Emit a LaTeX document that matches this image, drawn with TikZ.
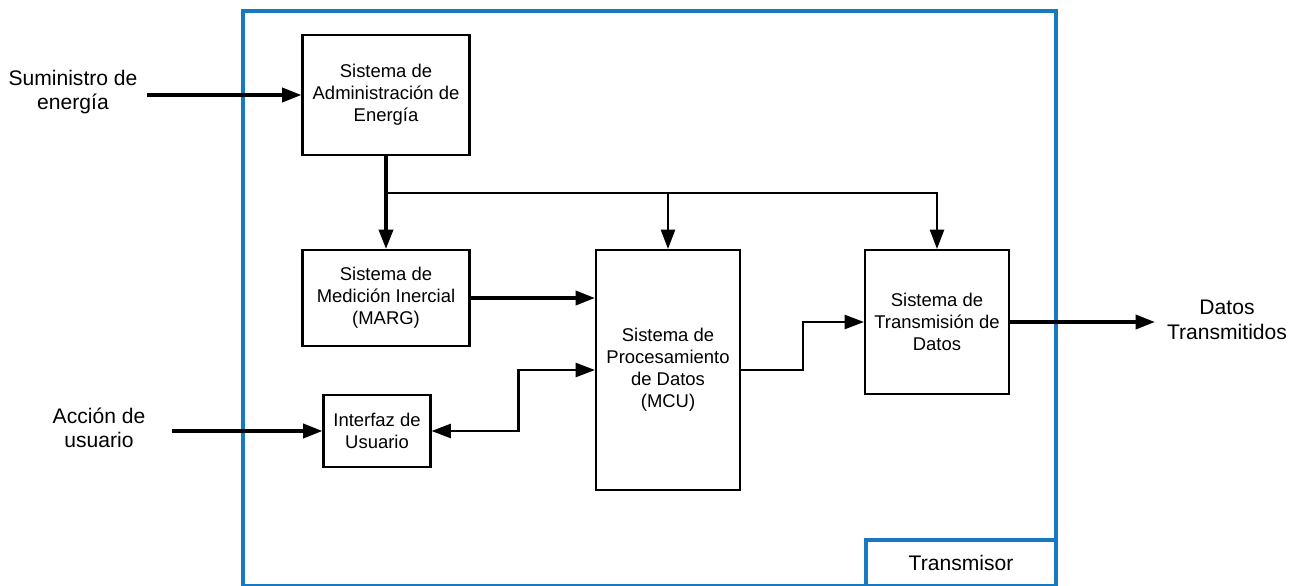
\documentclass[tikz,border=0pt]{standalone}
\usepackage{fontspec}
\setmainfont{Liberation Sans}
\usetikzlibrary{arrows.meta}
\definecolor{frameblue}{RGB}{23,121,190}

\begin{document}
\begin{tikzpicture}[x=0.02cm, y=-0.02cm,
  block/.style={draw, line width=1.2pt, align=center, inner sep=0pt,
    font=\fontsize{10.5}{12.5}\selectfont},
  outtext/.style={align=center, font=\fontsize{12}{14}\selectfont},
  flow/.style={line width=2pt, -{Triangle[length=11pt, width=8pt]}},
  feed/.style={line width=1.3pt, -{Triangle[length=11pt, width=8pt]}},
  both/.style={line width=1.3pt, {Triangle[length=11pt, width=8pt]}-{Triangle[length=11pt, width=8pt]}}]

\useasboundingbox (0,0) rectangle (1298,585);

% frame: pixel grid 1298x585, y downwards (bottom edge cut by the page)
\draw[frameblue, line width=2.4pt] (243,11) rectangle (1056,586);
\node[draw=frameblue, line width=2.4pt, minimum width=3.8cm, minimum height=0.92cm,
  font=\fontsize{12}{14}\selectfont] (tag) at (961,563) {Transmisor};

% ── BLOCKS ───────────────────────────────────────────────────────────────
\node[block, minimum width=3.34cm, minimum height=2.4cm] (admin) at (386,95)
  {Sistema de\\Administración de\\Energía};
\node[block, minimum width=3.34cm, minimum height=1.92cm] (marg) at (386,298)
  {Sistema de\\Medición Inercial\\(MARG)};
\node[block, minimum width=2.14cm, minimum height=1.44cm] (iface) at (377,431)
  {Interfaz de\\Usuario};
\node[block, minimum width=2.88cm, minimum height=4.8cm] (mcu) at (668,370)
  {Sistema de\\Procesamiento\\de Datos\\(MCU)};
\node[block, minimum width=2.88cm, minimum height=2.88cm] (tx) at (937,322)
  {Sistema de\\Transmisión de\\Datos};

% ── OUTSIDE TEXTS ────────────────────────────────────────────────────────
\node[outtext] (supply) at (73,92) {Suministro de\\energía};
\node[outtext] (user) at (99,428) {Acción de\\usuario};
\node[outtext] (data) at (1227,320) {Datos\\Transmitidos};

\coordinate (pwrin) at (147,95);
\coordinate (userin) at (172,431);
\coordinate (dataout) at (1155,322);
\coordinate (split) at (386,193);

% ── CONNECTORS ───────────────────────────────────────────────────────────
\draw[flow] (pwrin) -- (admin.west);
\draw[flow] (admin.south) -- (marg.north);
\draw[feed] (split) -| (mcu.north);
\draw[feed] (split) -| (tx.north);
\draw[flow] (marg.east) -- (marg.east -| mcu.west);
\draw[flow] (userin) -- (iface.west);
\draw[both] (iface.east) -- ++(87,0) |- (mcu.west);
\draw[feed] (mcu.east) -- ++(62,0) |- (tx.west);
\draw[flow] (tx.east) -- (dataout);

\end{tikzpicture}
\end{document}
